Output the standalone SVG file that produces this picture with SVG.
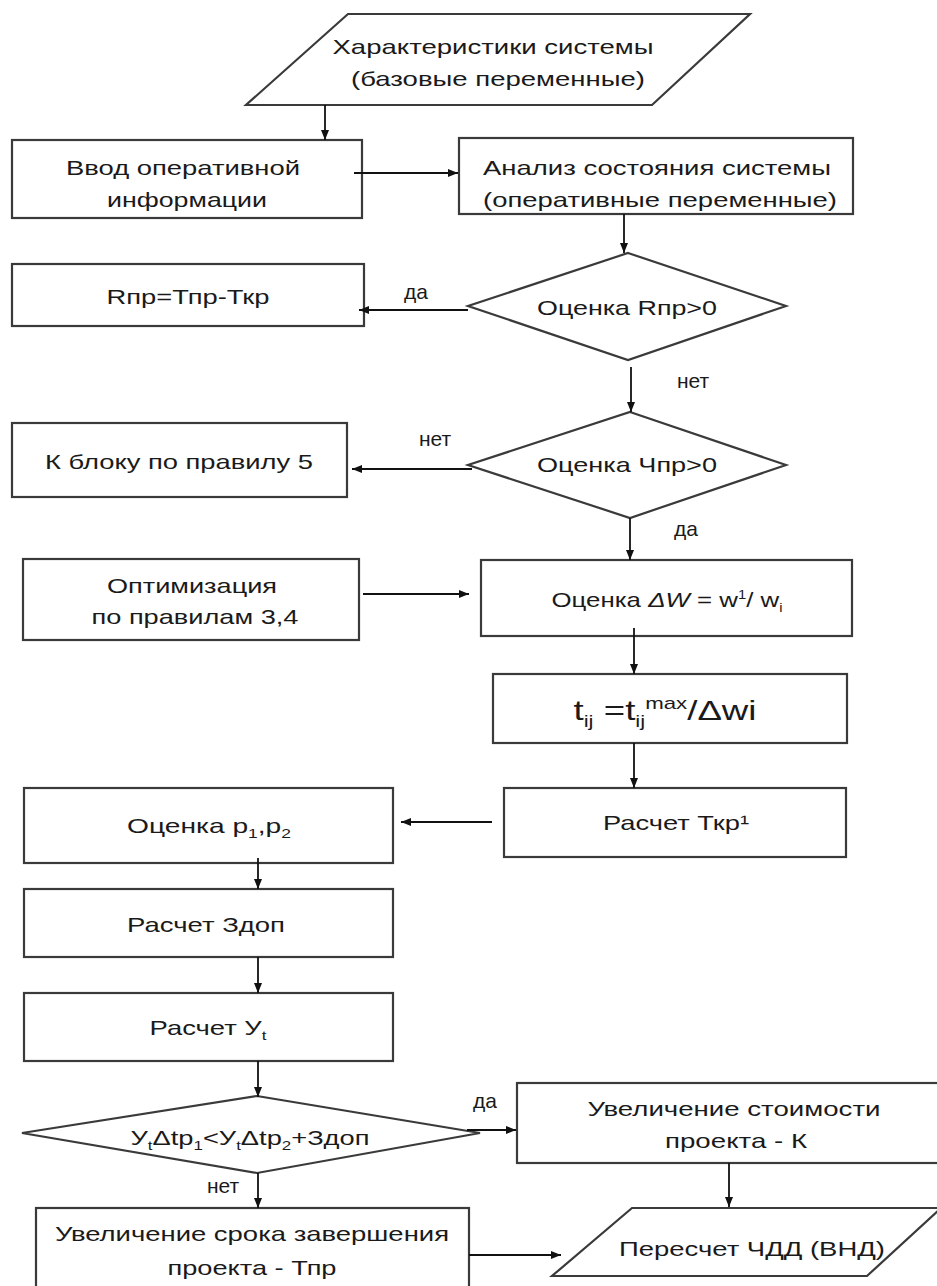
<svg xmlns="http://www.w3.org/2000/svg" width="937" height="1286" viewBox="0 0 937 1286">
<defs>
<marker id="arr" markerWidth="10" markerHeight="10" refX="10" refY="5" orient="auto" markerUnits="userSpaceOnUse">
<path d="M0,1 L10,5 L0,9 Z" fill="#111"/>
</marker>
<style>
.shape{fill:#fff;stroke:#3a3a3a;stroke-width:2.2}
.t{font-family:"Liberation Sans",Arial,sans-serif;font-size:21px;fill:#1a1a1a;text-anchor:middle}
.lbl{font-family:"Liberation Sans",Arial,sans-serif;font-size:21px;fill:#1a1a1a;text-anchor:middle}
.c{fill:none;stroke:#111;stroke-width:1.8;marker-end:url(#arr)}
</style>
</defs>
<rect width="937" height="1286" fill="#fff"/>

<g id="n-char">
<polygon class="shape" points="348,14 750,14 652,105 246,105"/>
<text class="t" x="493" y="54" textLength="321" lengthAdjust="spacingAndGlyphs">Характеристики системы</text>
<text class="t" x="498" y="86" textLength="294" lengthAdjust="spacingAndGlyphs">(базовые переменные)</text>
</g>

<g id="n-vvod">
<rect class="shape" x="12" y="140" width="350" height="78"/>
<text class="t" x="183" y="175" textLength="234" lengthAdjust="spacingAndGlyphs">Ввод оперативной</text>
<text class="t" x="187" y="207" textLength="160" lengthAdjust="spacingAndGlyphs">информации</text>
</g>

<g id="n-analiz">
<rect class="shape" x="459" y="138" width="394" height="76"/>
<text class="t" x="657" y="175" textLength="348" lengthAdjust="spacingAndGlyphs">Анализ состояния системы</text>
<text class="t" x="660" y="207" textLength="354" lengthAdjust="spacingAndGlyphs">(оперативные переменные)</text>
</g>

<g id="n-rpr">
<rect class="shape" x="12" y="264" width="352" height="62"/>
<text class="t" x="188" y="304" textLength="163" lengthAdjust="spacingAndGlyphs">Rпр=Тпр-Ткр</text>
</g>

<g id="n-d1">
<polygon class="shape" points="628,253 786,306 628,360 468,306"/>
<text class="t" x="627" y="315" textLength="180" lengthAdjust="spacingAndGlyphs">Оценка Rпр&gt;0</text>
</g>

<g id="n-kbloku">
<rect class="shape" x="12" y="423" width="335" height="74"/>
<text class="t" x="179" y="469" textLength="268" lengthAdjust="spacingAndGlyphs">К блоку по правилу 5</text>
</g>

<g id="n-d2">
<polygon class="shape" points="630,412 786,465 630,518 468,465"/>
<text class="t" x="627" y="472" textLength="180" lengthAdjust="spacingAndGlyphs">Оценка Чпр&gt;0</text>
</g>

<g id="n-opt">
<rect class="shape" x="23" y="559" width="336" height="81"/>
<text class="t" x="192" y="593" textLength="170" lengthAdjust="spacingAndGlyphs">Оптимизация</text>
<text class="t" x="195" y="624" textLength="207" lengthAdjust="spacingAndGlyphs">по правилам 3,4</text>
</g>

<g id="n-dw">
<rect class="shape" x="481" y="560" width="371" height="76"/>
<text class="t" x="667" y="607" textLength="231" lengthAdjust="spacingAndGlyphs">Оценка <tspan font-style="italic">ΔW</tspan> = w<tspan style="font-size:12px" dy="-8">1</tspan><tspan dy="8">/ w</tspan><tspan style="font-size:12px" dy="5">i</tspan></text>
</g>

<g id="n-tij">
<rect class="shape" x="493" y="674" width="354" height="69"/>
<text class="t" x="665" y="720" style="font-size:28px" textLength="183" lengthAdjust="spacingAndGlyphs">t<tspan style="font-size:17px" dy="7">ij</tspan><tspan dy="-7"> =t</tspan><tspan style="font-size:17px" dy="7">ij</tspan><tspan style="font-size:17px" dy="-18">max</tspan><tspan dy="11">/Δwi</tspan></text>
</g>

<g id="n-tkr">
<rect class="shape" x="504" y="788" width="342" height="69"/>
<text class="t" x="676" y="830" textLength="146" lengthAdjust="spacingAndGlyphs">Расчет Ткр¹</text>
</g>

<g id="n-p">
<rect class="shape" x="24" y="788" width="369" height="75"/>
<text class="t" x="209" y="833" textLength="164" lengthAdjust="spacingAndGlyphs">Оценка p<tspan style="font-size:13px" dy="5">1</tspan><tspan dy="-5">,p</tspan><tspan style="font-size:13px" dy="5">2</tspan></text>
</g>

<g id="n-zdop">
<rect class="shape" x="24" y="889" width="369" height="68"/>
<text class="t" x="206" y="932" textLength="158" lengthAdjust="spacingAndGlyphs">Расчет Здоп</text>
</g>

<g id="n-ut">
<rect class="shape" x="24" y="993" width="369" height="68"/>
<text class="t" x="208" y="1035" textLength="117" lengthAdjust="spacingAndGlyphs">Расчет У<tspan style="font-size:13px" dy="5">t</tspan></text>
</g>

<g id="n-d3">
<polygon class="shape" points="257,1096 480,1133 257,1173 22,1133"/>
<text class="t" x="250" y="1145" textLength="239" lengthAdjust="spacingAndGlyphs">У<tspan style="font-size:13px" dy="5">t</tspan><tspan dy="-5">Δtp</tspan><tspan style="font-size:13px" dy="5">1</tspan><tspan dy="-5">&lt;У</tspan><tspan style="font-size:13px" dy="5">t</tspan><tspan dy="-5">Δtp</tspan><tspan style="font-size:13px" dy="5">2</tspan><tspan dy="-5">+Здоп</tspan></text>
</g>

<g id="n-cost">
<rect class="shape" x="517" y="1083" width="430" height="80"/>
<text class="t" x="734" y="1116" textLength="293" lengthAdjust="spacingAndGlyphs">Увеличение стоимости</text>
<text class="t" x="736" y="1148" textLength="142" lengthAdjust="spacingAndGlyphs">проекта - К</text>
</g>

<g id="n-term">
<rect class="shape" x="36" y="1208" width="433" height="90"/>
<text class="t" x="252" y="1241" textLength="394" lengthAdjust="spacingAndGlyphs">Увеличение срока завершения</text>
<text class="t" x="252" y="1275" textLength="169" lengthAdjust="spacingAndGlyphs">проекта - Тпр</text>
</g>

<g id="n-npv">
<polygon class="shape" points="632,1208 941,1208 867,1276 552,1276"/>
<text class="t" x="752" y="1256" textLength="266" lengthAdjust="spacingAndGlyphs">Пересчет ЧДД (ВНД)</text>
</g>

<g id="connectors">
<path class="c" d="M325,105 L325,140"/>
<path class="c" d="M354,173 L458,173"/>
<path class="c" d="M624,214 L624,253"/>
<path class="c" d="M468,310 L359,310"/>
<path class="c" d="M631,367 L631,412"/>
<path class="c" d="M472,469 L352,469"/>
<path class="c" d="M630,518 L630,560"/>
<path class="c" d="M363,594 L469,594"/>
<path class="c" d="M634,628 L634,674"/>
<path class="c" d="M634,743 L634,788"/>
<path class="c" d="M492,822 L401,822"/>
<path class="c" d="M258,858 L258,889"/>
<path class="c" d="M258,957 L258,993"/>
<path class="c" d="M258,1061 L258,1097"/>
<path class="c" d="M467,1130 L516,1130"/>
<path class="c" d="M258,1173 L258,1208"/>
<path class="c" d="M729,1163 L729,1207"/>
<path class="c" d="M469,1255 L561,1255"/>
<text class="lbl" x="416" y="299">да</text>
<text class="lbl" x="693" y="388">нет</text>
<text class="lbl" x="435" y="446">нет</text>
<text class="lbl" x="686" y="536">да</text>
<text class="lbl" x="485" y="1108">да</text>
<text class="lbl" x="223" y="1193">нет</text>
</g>
</svg>
